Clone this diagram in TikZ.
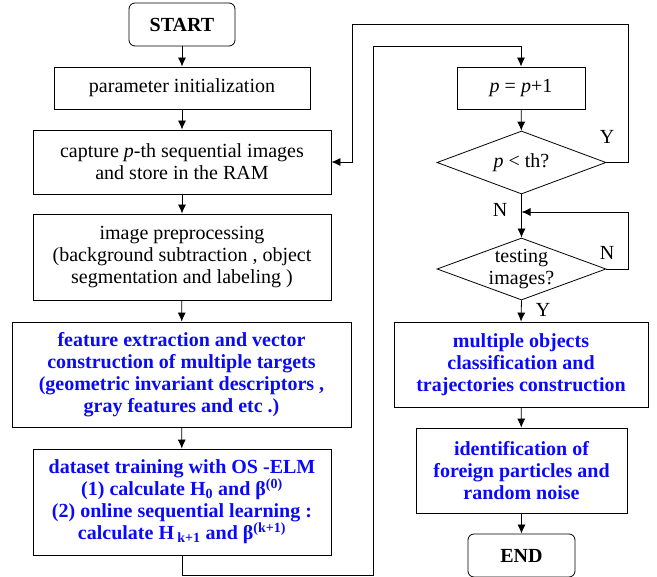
\documentclass[tikz,border=0pt]{standalone}
\usepackage{fontspec}
\setmainfont{Liberation Serif}
\usetikzlibrary{shapes.geometric,arrows.meta}
\definecolor{stepblue}{RGB}{10,10,245}
\newcommand{\flowsize}{\fontsize{20}{22}\selectfont}
\tikzset{
  procbox/.style={draw, line width=0.8pt, align=center, inner sep=0pt},
  termbox/.style={procbox, rounded corners=6pt, font=\flowsize\bfseries},
  bluebox/.style={procbox, text=stepblue, font=\flowsize\bfseries},
  decision/.style={diamond, draw, line width=0.8pt, inner sep=0pt},
  flow/.style={-{Latex[length=9pt,width=8pt]}, line width=0.8pt},
}
\begin{document}
\begin{tikzpicture}[x=1pt,y=-1pt,font=\flowsize]
  \useasboundingbox (0,0) rectangle (657,577);

  % Left column - acquisition and training
  \node[termbox, minimum width=106pt, minimum height=43pt] (start) at (182,24.5) {START};
  \node[procbox, minimum width=256pt, minimum height=42pt] (init) at (182,88) {parameter initialization};
  \node[procbox, minimum width=298pt, minimum height=64pt] (capture) at (182,162) {capture \textit{p}-th sequential images\\and store in the RAM};
  \node[procbox, minimum width=298pt, minimum height=86pt] (prep) at (182,257) {image preprocessing\\(background subtraction , object\\segmentation and labeling )};
  \node[bluebox, minimum width=339pt, minimum height=105pt] (feat) at (181.5,374.5) {feature extraction and vector\\construction of multiple targets\\(geometric invariant descriptors ,\\gray features and etc .)};
  \node[bluebox, minimum width=298pt, minimum height=106pt] (train) at (182,502) {dataset training with OS -ELM\\(1) calculate H\textsubscript{0} and β\textsuperscript{(0)}\\(2) online sequential learning :\\calculate H\,\textsubscript{k+1} and β\textsuperscript{(k+1)}};

  % Right column - loop and testing
  \node[procbox, minimum width=128pt, minimum height=42pt] (inc) at (521,88) {\textit{p} = \textit{p}+1};
  \node[decision, minimum width=169pt, minimum height=63pt, label={center:{\textit{p} < th?}}] (chk) at (521.5,162.5) {};
  \node[decision, minimum width=169pt, minimum height=62pt, label={[align=center]center:testing\\images?}] (test) at (521.5,269) {};
  \node[bluebox, minimum width=254pt, minimum height=85pt] (cls) at (521,364.5) {multiple objects\\classification and\\trajectories construction};
  \node[bluebox, minimum width=211pt, minimum height=85pt] (ident) at (521.5,470.5) {identification of\\foreign particles and\\random noise};
  \node[termbox, minimum width=107pt, minimum height=43pt] (end) at (521.5,555.5) {END};

  \coordinate (lowright) at (373,575);
  \coordinate (upright) at (373,46);
  \coordinate (yr) at (628,24);
  \coordinate (yl) at (352,24);
  \coordinate (nj) at (521.5,212);
  \coordinate (nr) at (628,212);

  \draw[flow] (start) -- (init);
  \draw[flow] (init) -- (capture);
  \draw[flow] (capture) -- (prep);
  \draw[flow] (prep) -- (feat);
  \draw[flow] (feat) -- (train);
  \draw[flow] (train.south) |- (lowright) -- (upright) -| (inc.north);
  \draw[flow] (inc) -- (chk);
  \draw[flow] (chk.east) -| (yr) -- (yl) |- (capture.east);
  \draw[flow] (chk.south) -- (test.north);
  \draw[flow] (test.east) -| (nr) -- (nj);
  \draw[flow] (test.south) -- (cls.north);
  \draw[flow] (cls) -- (ident);
  \draw[flow] (ident) -- (end);

  \node (ylab1) at (607,137) {Y};
  \node (nlab1) at (500,210) {N};
  \node (nlab2) at (607,253) {N};
  \node (ylab2) at (543,310) {Y};
\end{tikzpicture}
\end{document}
